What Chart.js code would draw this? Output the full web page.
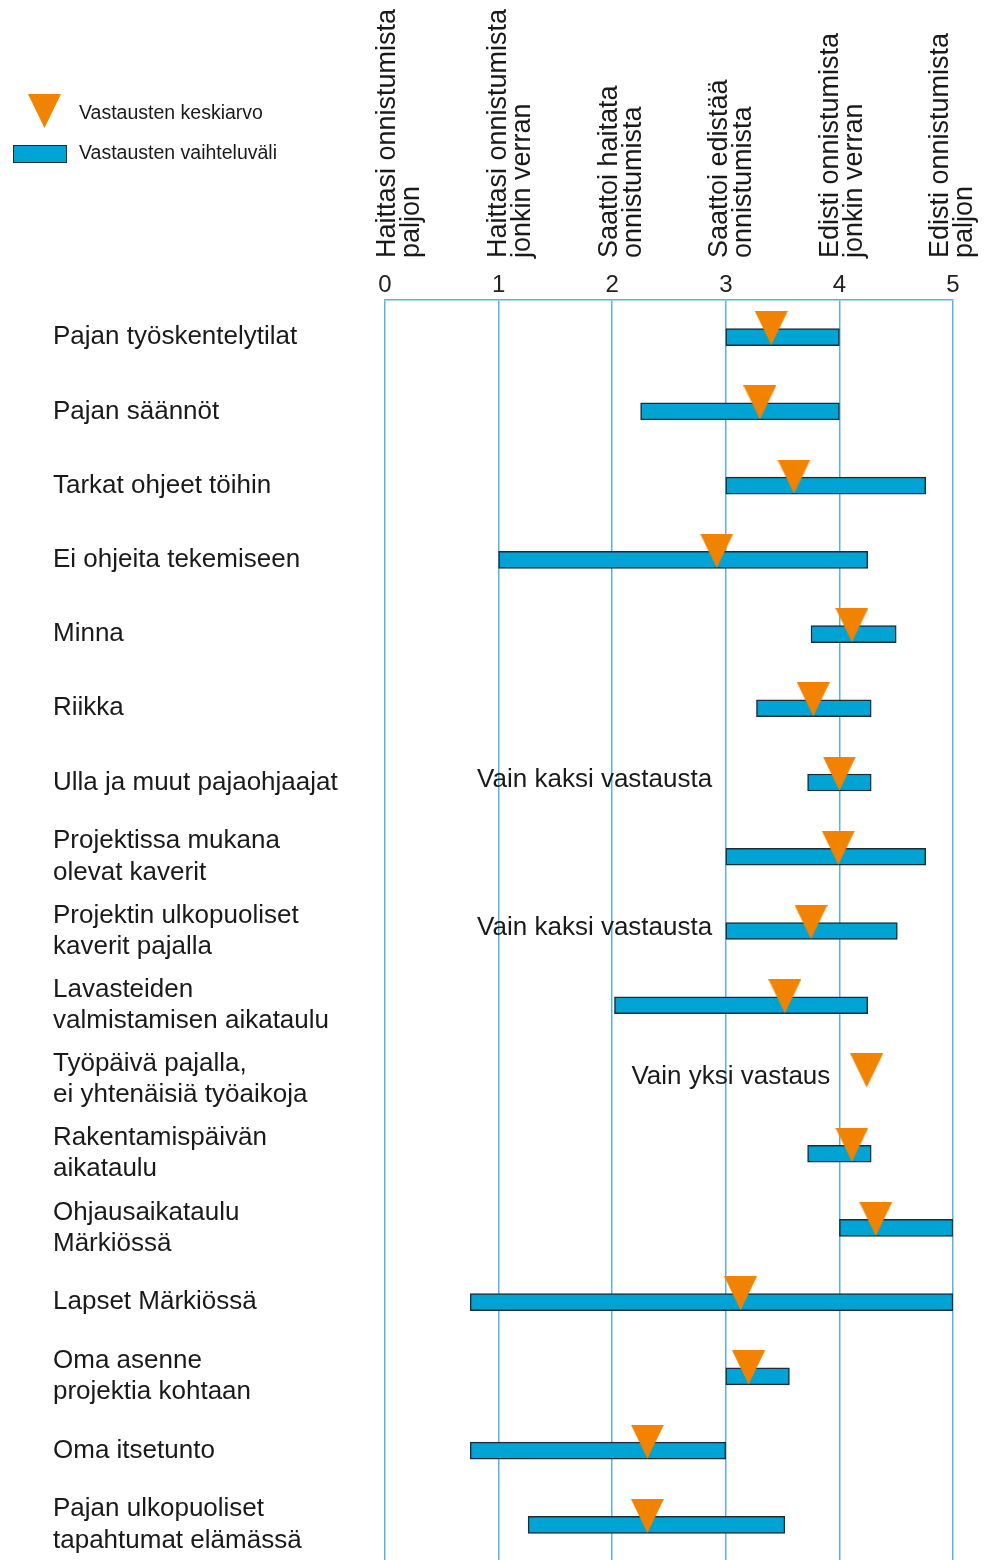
<!DOCTYPE html>
<html>
<head>
<meta charset="utf-8">
<script src="https://cdn.jsdelivr.net/npm/chart.js@4.4.1/dist/chart.umd.min.js"></script>
<style>
  html, body { margin: 0; padding: 0; background: #fff; overflow: hidden; }
</style>
</head>
<body>
<canvas id="myChart" width="986" height="1580"></canvas>
<script>
// rows, top to bottom
const categories = [
  'Pajan työskentelytilat',
  'Pajan säännöt',
  'Tarkat ohjeet töihin',
  'Ei ohjeita tekemiseen',
  'Minna',
  'Riikka',
  'Ulla ja muut pajaohjaajat',
  ['Projektissa mukana', 'olevat kaverit'],
  ['Projektin ulkopuoliset', 'kaverit pajalla'],
  ['Lavasteiden', 'valmistamisen aikataulu'],
  ['Työpäivä pajalla,', 'ei yhtenäisiä työaikoja'],
  ['Rakentamispäivän', 'aikataulu'],
  ['Ohjausaikataulu', 'Märkiössä'],
  'Lapset Märkiössä',
  ['Oma asenne', 'projektia kohtaan'],
  'Oma itsetunto',
  ['Pajan ulkopuoliset', 'tapahtumat elämässä']
];

/** range of answers (min..max) and the mean */
const rangeMin = [3.0, 2.25, 3.0, 1.0, 3.75, 3.27, 3.72, 3.0, 3.0, 2.02, null, 3.72, 4.0, 0.75, 3.0, 0.75, 1.26];
const rangeMax = [4.0, 4.0, 4.76, 4.25, 4.5, 4.28, 4.28, 4.76, 4.51, 4.25, null, 4.28, 5.0, 5.0, 3.56, 3.0, 3.52];
const means    = [3.40, 3.30, 3.60, 2.92, 4.11, 3.77, 4.00, 3.99, 3.75, 3.52, 4.24, 4.11, 4.32, 3.13, 3.20, 2.31, 2.31];

const scaleTicks = [0, 1, 2, 3, 4, 5];
const scaleTitles = [
  ['Haittasi onnistumista', 'paljon'],
  ['Haittasi onnistumista', 'jonkin verran'],
  ['Saattoi haitata', 'onnistumista'],
  ['Saattoi edistää', 'onnistumista'],
  ['Edisti onnistumista', 'jonkin verran'],
  ['Edisti onnistumista', 'paljon']
];

// notes written into the rows (text ends at the given value)
const noteRows  = [6, 8, 10];
const noteTexts = ['Vain kaksi vastausta', 'Vain kaksi vastausta', 'Vain yksi vastaus'];
const noteEnds  = [2.88, 2.88, 3.92];

const legendLabels = ['Vastausten keskiarvo', 'Vastausten vaihteluväli'];

const orange = '#f28300';
const blue = '#00a4d4';
const barEdge = '#1d2d36';
const gridBlue = '#58b4e0';
const font = '"Liberation Sans", Arial, Helvetica, sans-serif';

// down pointing triangle, tip sits on the lower edge of the bar
function makeTriangle(w, h, color) {
  const c = document.createElement('canvas');
  c.width = w;
  c.height = 2 * (h - 8);
  const g = c.getContext('2d');
  g.fillStyle = color;
  g.beginPath();
  g.moveTo(0, 0);
  g.lineTo(w, 0);
  g.lineTo(w / 2, h);
  g.closePath();
  g.fill();
  return c;
}
const triangle = makeTriangle(33, 34, orange);

const extras = {
  id: 'extras',
  afterDatasetsDraw(chart) {
    const ctx = chart.ctx;
    const xs = chart.scales.x, ys = chart.scales.y;
    ctx.save();
    ctx.fillStyle = '#1a1a1a';
    ctx.font = '26px ' + font;
    ctx.textAlign = 'right';
    ctx.textBaseline = 'middle';
    noteRows.forEach((r, i) => {
      ctx.fillText(noteTexts[i], xs.getPixelForValue(noteEnds[i]), ys.getPixelForValue(r) - 3);
    });
    ctx.restore();
  },
  afterDraw(chart) {
    const ctx = chart.ctx;
    const xs = chart.scales.x;
    ctx.save();
    // rotated titles over the scale
    ctx.fillStyle = '#1a1a1a';
    ctx.font = '27px ' + font;
    ctx.textAlign = 'left';
    ctx.textBaseline = 'middle';
    scaleTitles.forEach((lines, i) => {
      const px = xs.getPixelForValue(scaleTicks[i]) + 3 - 3 * i;
      ctx.save();
      ctx.translate(px, 258);
      ctx.rotate(-Math.PI / 2);
      lines.forEach((t, j) => ctx.fillText(t, 0, j * 24));
      ctx.restore();
    });

    // legend
    ctx.drawImage(triangle, 28, 94);
    ctx.fillStyle = blue;
    ctx.fillRect(13, 145, 54, 18);
    ctx.strokeStyle = barEdge;
    ctx.lineWidth = 1;
    ctx.strokeRect(13.5, 145.5, 53, 17);
    ctx.fillStyle = '#1a1a1a';
    ctx.font = '19.5px ' + font;
    ctx.fillText(legendLabels[0], 79, 114);
    ctx.fillText(legendLabels[1], 79, 154);
    ctx.restore();
  }
};

const ctx = document.getElementById('myChart').getContext('2d');

const data = {
  labels: categories,
  datasets: [{
    type: 'line',
    label: legendLabels[0],
    data: means,
    indexAxis: 'y',
    showLine: false,
    pointStyle: triangle,
    pointRadius: 17,
    order: 0
  }, {
    type: 'bar',
    label: legendLabels[1],
    data: rangeMin.map((v, i) => v == null ? null : [v, rangeMax[i]]),
    backgroundColor: blue,
    borderColor: barEdge,
    borderWidth: 1.5,
    borderSkipped: false,
    barThickness: 17,
    order: 1
  }]
};

const config = {
  type: 'bar',
  data: data,
  options: {
    indexAxis: 'y',
    responsive: false,
    animation: false,
    layout: { padding: { top: 260, left: 53, right: 33, bottom: 0 } },
    plugins: {
      legend: { display: false },
      tooltip: { enabled: false }
    },
    scales: {
      x: {
        type: 'linear',
        position: 'top',
        min: 0,
        max: 5,
        afterBuildTicks(scale) {
          scale.ticks = scaleTicks.map(v => ({ value: v }));
        },
        afterFit(scale) { scale.height = 40; },
        ticks: {
          color: '#222',
          padding: 0,
          font: { family: font, size: 24 }
        },
        grid: { color: gridBlue, lineWidth: 1.5, drawTicks: false },
        border: { display: true, color: gridBlue, width: 1.5 }
      },
      y: {
        type: 'category',
        offset: true,
        afterFit(scale) {
          scale.width = 332;
          scale.paddingTop = 0;
          scale.paddingBottom = 0;
        },
        ticks: {
          autoSkip: false,
          crossAlign: 'far',
          color: '#1a1a1a',
          font: { family: font, size: 26, lineHeight: 1.2 }
        },
        grid: { display: false },
        border: { display: false }
      }
    }
  },
  plugins: [extras]
};

let chart = new Chart(ctx, config);
</script>
</body>
</html>
